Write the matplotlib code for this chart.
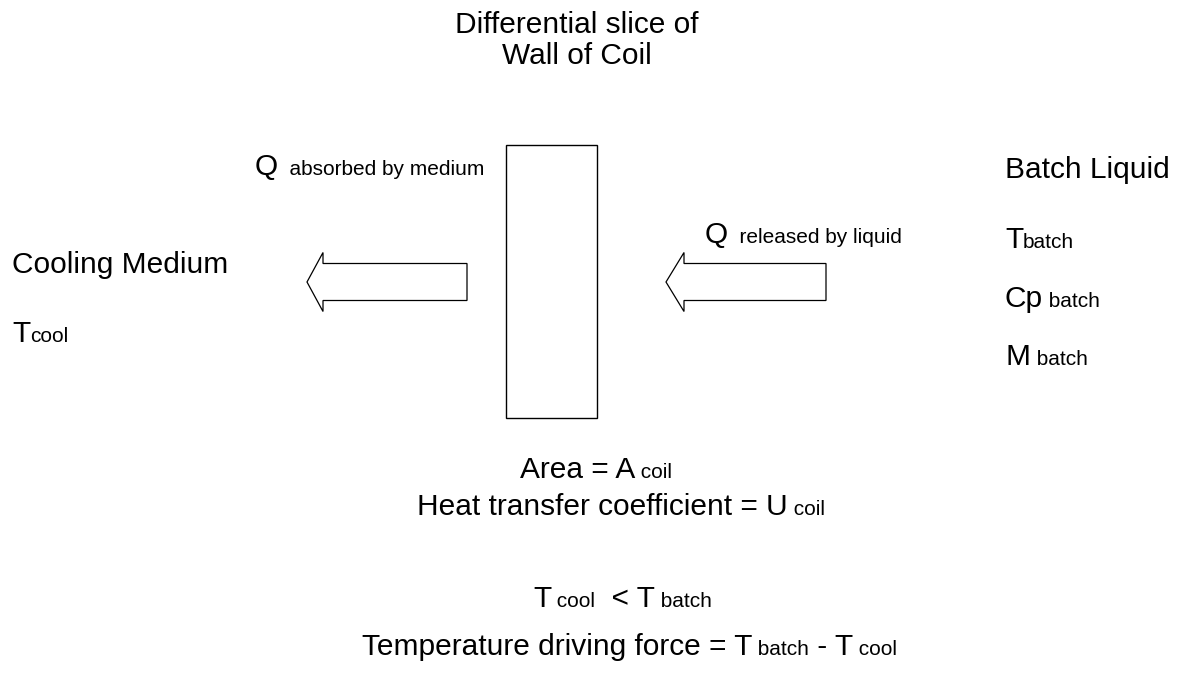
import matplotlib.pyplot as plt
from matplotlib.patches import Rectangle, Polygon

plt.rcParams['font.family'] = ['Liberation Sans', 'DejaVu Sans']

BIG = 21.5
SMALL = 15

# text blocks: (x, baseline y, [(text, size), ...])
title_lines = ["Differential slice of", "Wall of Coil"]
left_labels = [
    (12, 273, [("Cooling Medium", BIG)]),
    (12, 342, [("T", BIG), ("cool", SMALL)]),
]
right_labels = [
    (1005, 178, [("Batch Liquid", BIG)]),
    (1005, 248, [("T", BIG), ("batch", SMALL)]),
    (1005, 307, [("Cp", BIG), (" batch", SMALL)]),
    (1006, 365, [("M", BIG), (" batch", SMALL)]),
]
flow_labels = [
    (255, 175, [("Q", BIG), ("  absorbed by medium", SMALL)]),
    (705, 243, [("Q", BIG), ("  released by liquid", SMALL)]),
]
bottom_labels = [
    (520, 478, [("Area = A", BIG), (" coil", SMALL)]),
    (417, 515, [("Heat transfer coefficient = U", BIG), (" coil", SMALL)]),
    (533, 607, [("T", BIG), (" cool", SMALL), ("  < T", BIG), (" batch", SMALL)]),
    (362, 655, [("Temperature driving force = T", BIG), (" batch", SMALL),
                (" - T", BIG), (" cool", SMALL)]),
]

# wall slice and the two heat-flow arrows (tip x, head base x, tail x)
wall = (506, 145, 597, 418)
arrows = [(307, 323, 467), (666, 684, 826)]
arrow_y, body_half, head_half = 282, 18.5, 29.5

fig = plt.figure(figsize=(11.84, 6.75), dpi=100)
ax = fig.add_axes([0, 0, 1, 1])
ax.set_xlim(0, 1184)
ax.set_ylim(675, 0)
ax.axis('off')
renderer = fig.canvas.get_renderer()


def runs(x, y, pieces):
    # draw pieces of mixed size one after another on a common baseline
    for text, size in pieces:
        t = ax.text(x, y, text, fontsize=size, va='baseline', ha='left')
        x += t.get_window_extent(renderer).width


for x, y, pieces in left_labels + right_labels + flow_labels + bottom_labels:
    runs(x, y, pieces)

for i, line in enumerate(title_lines):
    ax.text(577, 33 + 31 * i, line, fontsize=BIG, ha='center', va='baseline')

x0, y0, x1, y1 = wall
ax.add_patch(Rectangle((x0, y0), x1 - x0, y1 - y0, fill=False, lw=1.0, ec='black'))

for tip, base, tail in arrows:
    pts = [(tip, arrow_y), (base, arrow_y - head_half), (base, arrow_y - body_half),
           (tail, arrow_y - body_half), (tail, arrow_y + body_half),
           (base, arrow_y + body_half), (base, arrow_y + head_half)]
    ax.add_patch(Polygon(pts, closed=True, fill=False, lw=0.9, ec='black'))

fig.savefig("out.png", dpi=100, facecolor='white')
